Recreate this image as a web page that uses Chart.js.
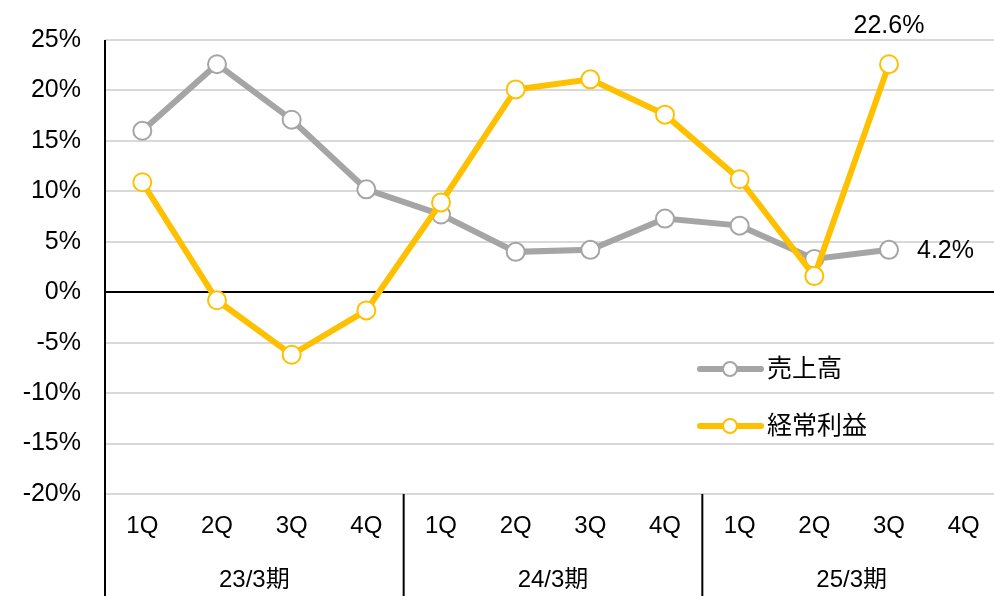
<!DOCTYPE html>
<html lang="ja">
<head>
<meta charset="UTF-8">
<title>売上高・経常利益 前年同期比</title>
<script src="https://cdn.jsdelivr.net/npm/chart.js"></script>
<style>
    html, body { margin: 0; padding: 0; background: #fff; overflow: hidden; }
    #wrap { width: 1012px; height: 596px; }
</style>
</head>
<body>
<div id="wrap"><canvas id="growthChart" width="1012" height="596"></canvas></div>
<script>
const quarters = ['1Q', '2Q', '3Q', '4Q', '1Q', '2Q', '3Q', '4Q', '1Q', '2Q', '3Q', '4Q'];
const periods = ['23/3期', '24/3期', '25/3期'];
const sales = [16.0, 22.6, 17.1, 10.2, 7.7, 4.0, 4.2, 7.3, 6.6, 3.3, 4.2, null];
const ordinaryProfit = [10.9, -0.8, -6.2, -1.8, 8.9, 20.1, 21.1, 17.6, 11.2, 1.6, 22.6, null];
const seriesNames = ['売上高', '経常利益'];
const seriesColors = ['#A5A5A5', '#FFC000'];

const FONT = '"Liberation Sans", Arial, "Noto Sans CJK JP", sans-serif';

const decorPlugin = {
    id: 'decor',
    afterDatasetsDraw(chart) {
        const ctx = chart.ctx;
        const area = chart.chartArea;
        const x = chart.scales.x;
        const y = chart.scales.y;
        ctx.save();

        // left axis + period separators
        ctx.strokeStyle = '#000';
        ctx.lineWidth = 2;
        ctx.beginPath();
        ctx.moveTo(area.left, area.top);
        ctx.lineTo(area.left, chart.height);
        for (let g = 1; g < periods.length; g++) {
            const px = (x.getPixelForValue(g * 4 - 1) + x.getPixelForValue(g * 4)) / 2;
            ctx.moveTo(px, area.bottom);
            ctx.lineTo(px, chart.height);
        }
        ctx.stroke();

        // period labels
        ctx.fillStyle = '#000';
        ctx.font = '24px ' + FONT;
        ctx.textAlign = 'center';
        ctx.textBaseline = 'middle';
        periods.forEach((p, g) => {
            const cx = (x.getPixelForValue(g * 4) + x.getPixelForValue(g * 4 + 3)) / 2;
            ctx.fillText(p, cx, 580);
        });

        // value labels on the last points
        ctx.font = '25px ' + FONT;
        const last = 10;
        const py = y.getPixelForValue(ordinaryProfit[last]);
        ctx.fillText(ordinaryProfit[last].toFixed(1) + '%', x.getPixelForValue(last), py - 38);
        ctx.textAlign = 'left';
        ctx.fillText(sales[last].toFixed(1) + '%', x.getPixelForValue(last) + 28, y.getPixelForValue(sales[last]) + 1);

        // legend
        const legendY = [369, 426];
        seriesNames.forEach((name, i) => {
            const ly = legendY[i];
            ctx.strokeStyle = seriesColors[i];
            ctx.lineWidth = 6;
            ctx.lineCap = 'round';
            ctx.beginPath();
            ctx.moveTo(700, ly);
            ctx.lineTo(761, ly);
            ctx.stroke();
            ctx.beginPath();
            ctx.arc(730, ly, 7, 0, Math.PI * 2);
            ctx.fillStyle = '#fff';
            ctx.fill();
            ctx.lineWidth = 2;
            ctx.stroke();
            ctx.fillStyle = '#000';
            ctx.font = '25px ' + FONT;
            ctx.textAlign = 'left';
            ctx.fillText(name, 767, ly + 1);
        });
        ctx.restore();
    }
};

const datasets = [sales, ordinaryProfit].map((values, i) => ({
    label: seriesNames[i],
    data: values,
    borderColor: seriesColors[i],
    backgroundColor: '#fff',
    borderWidth: 6,
    pointRadius: 9,
    pointBorderWidth: 2,
    pointBackgroundColor: '#fff',
    pointBorderColor: seriesColors[i],
    tension: 0,
    order: i === 0 ? 2 : 1
}));

new Chart(document.getElementById('growthChart'), {
    type: 'line',
    data: { labels: quarters, datasets: datasets },
    options: {
        responsive: false,
        animation: false,
        layout: { padding: { top: 40, right: 1, left: 0, bottom: 0 } },
        plugins: { legend: { display: false }, tooltip: { enabled: false } },
        scales: {
            x: {
                offset: true,
                grid: { display: false, drawTicks: false, offset: true },
                border: { display: false },
                ticks: { color: '#000', font: { family: FONT, size: 24 }, padding: 18, maxRotation: 0, autoSkip: false },
                afterFit(scale) { scale.height = 102; }
            },
            y: {
                min: -20,
                max: 25,
                grid: {
                    drawTicks: false,
                    lineWidth: 2,
                    color: c => (c.tick && c.tick.value === 0) ? '#000' : '#D9D9D9'
                },
                border: { display: false },
                ticks: {
                    stepSize: 5,
                    color: '#000',
                    padding: 24,
                    font: { family: FONT, size: 25 },
                    callback: v => v + '%'
                },
                afterFit(scale) { scale.width = 105; }
            }
        }
    },
    plugins: [decorPlugin]
});
</script>
</body>
</html>
